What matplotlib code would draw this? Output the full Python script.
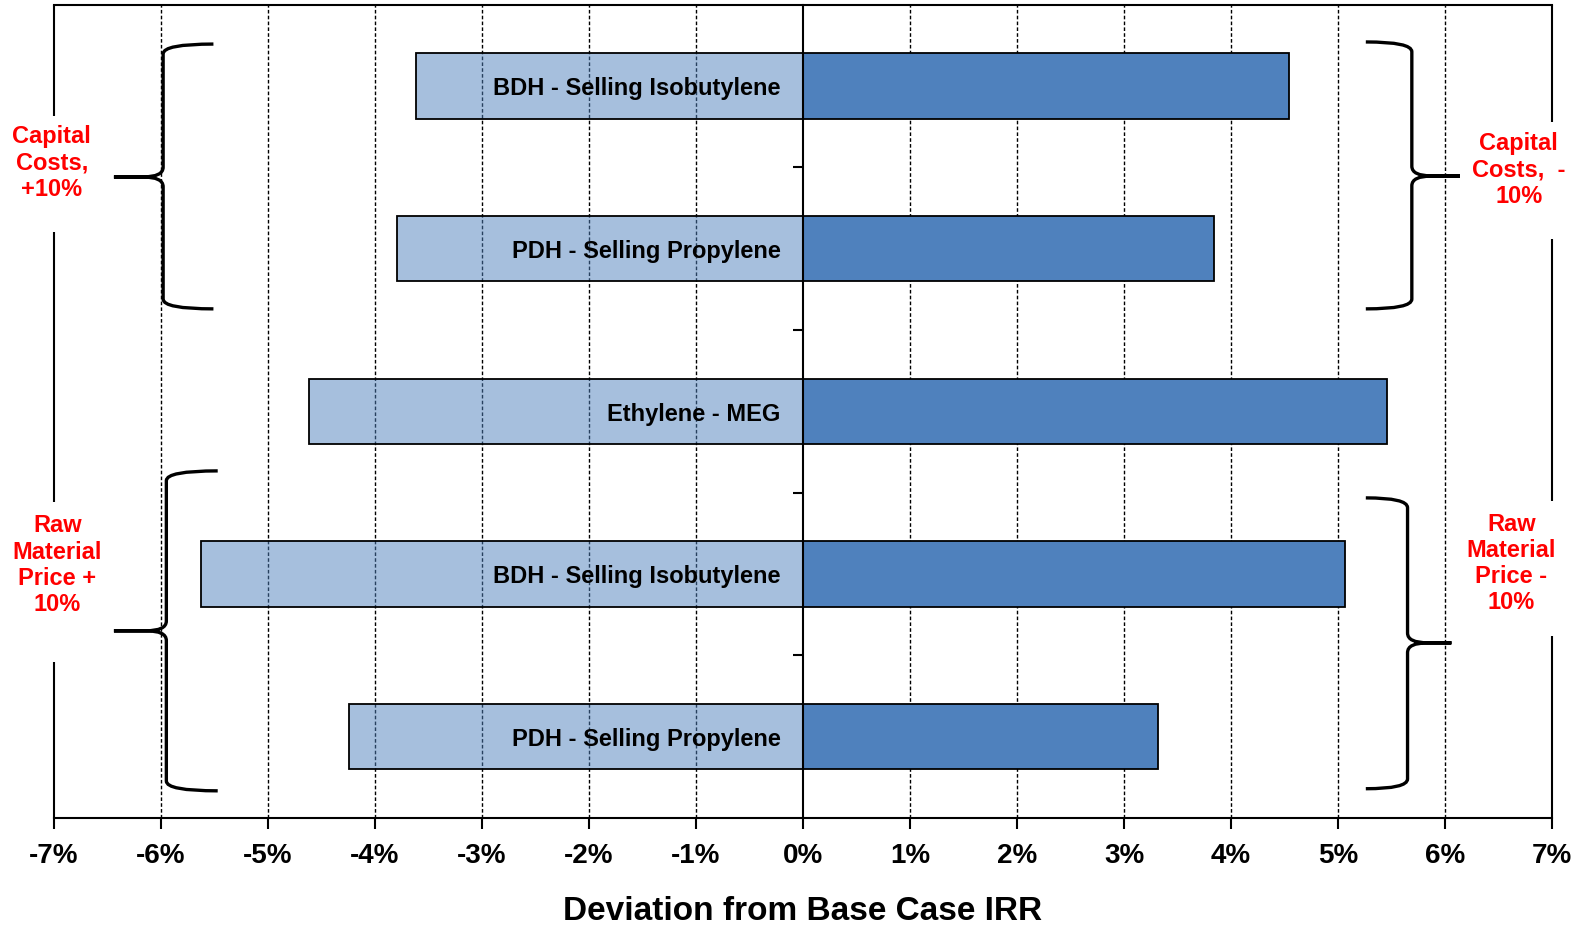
import matplotlib
matplotlib.use("Agg")
import matplotlib.pyplot as plt
from matplotlib.path import Path
from matplotlib.patches import PathPatch

plt.rcParams["font.family"] = ["Liberation Sans", "DejaVu Sans"]

# Sensitivity of IRR (percentage points) for each case
categories = [
    "BDH - Selling Isobutylene",
    "PDH - Selling Propylene",
    "Ethylene - MEG",
    "BDH - Selling Isobutylene",
    "PDH - Selling Propylene",
]
low_values = [-3.62, -3.79, -4.62, -5.63, -4.24]
high_values = [4.54, 3.84, 5.46, 5.07, 3.32]

x_ticks = list(range(-7, 8))
x_tick_labels = [f"{t}%" for t in x_ticks]

left_group_labels = ["Capital\nCosts,\n+10%", "Raw\nMaterial\nPrice +\n10%"]
right_group_labels = ["Capital\nCosts,  -\n10%", "Raw\nMaterial\nPrice -\n10%"]

BLUE = "#4F81BD"
LIGHT_BLUE = (0x4F / 255, 0x81 / 255, 0xBD / 255, 0.5)

fig = plt.figure(figsize=(15.85, 9.29), dpi=100)
ax = fig.add_axes([54 / 1585, 1 - 819 / 929, (1552 - 54) / 1585, (819 - 5.7) / 929])

ypos = list(range(len(categories)))
ax.barh(ypos, low_values, height=0.4, color=LIGHT_BLUE, edgecolor="black",
        linewidth=1.3, zorder=2)
ax.barh(ypos, high_values, height=0.4, color=BLUE, edgecolor="black",
        linewidth=1.3, zorder=2)

ax.set_xlim(-7, 7)
ax.set_ylim(4.5, -0.5)

# dashed vertical gridlines
for t in x_ticks[1:-1]:
    if t != 0:
        ax.axvline(t, color="black", lw=1.0, ls=(0, (2.6, 1.6)), zorder=1)

# zero axis with category separators
ax.spines["left"].set_position(("data", 0))
ax.spines["left"].set_linewidth(1.5)
ax.spines["left"].set_zorder(3)
ax.set_yticks([0.5, 1.5, 2.5, 3.5])
ax.set_yticklabels([])
ax.tick_params(axis="y", direction="out", length=7, width=1.5)

ax.spines["right"].set_visible(False)
for side in ("top", "bottom"):
    ax.spines[side].set_linewidth(1.5)

ax.set_xticks(x_ticks)
ax.set_xticklabels(x_tick_labels, fontsize=20, fontweight="bold")
ax.tick_params(axis="x", direction="out", length=8, width=1.5, pad=9)

# outer frame lines, interrupted behind the group labels
left_segments = [(-0.5, 0.184), (0.897, 2.557), (3.540, 4.5)]
right_segments = [(-0.5, 0.221), (0.941, 2.550), (3.380, 4.5)]
for y0, y1 in left_segments:
    ax.plot([-7, -7], [y0, y1], color="black", lw=1.5, clip_on=False,
            solid_capstyle="butt", zorder=3)
for y0, y1 in right_segments:
    ax.plot([7, 7], [y0, y1], color="black", lw=1.5, clip_on=False,
            solid_capstyle="butt", zorder=3)

# case names inside the bars
for i, name in enumerate(categories):
    ax.text(-0.21, i + 0.012, name, ha="right", va="center", fontsize=17,
            fontweight="bold", color="black", zorder=5)


def draw_brace(ax, xv, xend, xtip, ytop, ybot, ytip, r=0.06, d=0.19):
    s = 1 if xtip > xv else -1
    verts = [
        (xend, ytop), (xv, ytop), (xv, ytop + r),
        (xv, ytip - r), (xv, ytip), (xv + s * d, ytip),
        (xtip, ytip),
        (xtip, ytip), (xv + s * d, ytip), (xv, ytip), (xv, ytip + r),
        (xv, ybot - r), (xv, ybot), (xend, ybot),
    ]
    codes = [
        Path.MOVETO, Path.CURVE3, Path.CURVE3,
        Path.LINETO, Path.CURVE3, Path.CURVE3,
        Path.LINETO,
        Path.MOVETO, Path.LINETO, Path.CURVE3, Path.CURVE3,
        Path.LINETO, Path.CURVE3, Path.CURVE3,
    ]
    ax.add_patch(PathPatch(Path(verts, codes), facecolor="none",
                           edgecolor="black", lw=2.4, zorder=4,
                           capstyle="butt", clip_on=False))


draw_brace(ax, xv=-5.98, xend=-5.51, xtip=-6.44, ytop=-0.258, ybot=1.370, ytip=0.559)
draw_brace(ax, xv=-5.95, xend=-5.47, xtip=-6.44, ytop=2.366, ybot=4.333, ytip=3.349)
draw_brace(ax, xv=5.69, xend=5.26, xtip=6.14, ytop=-0.271, ybot=1.370, ytip=0.553)
draw_brace(ax, xv=5.65, xend=5.26, xtip=6.06, ytop=2.532, ybot=4.320, ytip=3.423)

label_style = dict(ha="center", va="center", color="red", fontsize=17,
                   fontweight="bold", linespacing=1.18, multialignment="center",
                   zorder=6)
ax.text(-7.02, 0.467, left_group_labels[0], **label_style)
ax.text(-6.97, 2.94, left_group_labels[1], **label_style)
ax.text(6.69, 0.51, right_group_labels[0], **label_style)
ax.text(6.62, 2.93, right_group_labels[1], **label_style)

fig.text(803 / 1585, 1 - 920 / 929, "Deviation from Base Case IRR", ha="center",
         va="baseline", fontsize=24, fontweight="bold")

fig.savefig("out.png", dpi=100)
